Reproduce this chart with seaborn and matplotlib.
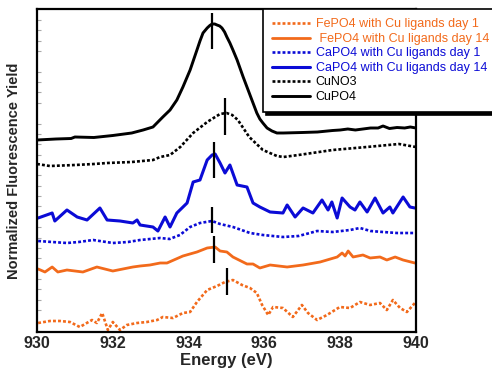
import numpy as np
import matplotlib
matplotlib.use("Agg")
import matplotlib.pyplot as plt
import seaborn as sns
from matplotlib.lines import Line2D
from matplotlib.ticker import FixedLocator

# energy (eV) / stacked normalized yield (arb. units)
cupo4_e = [930.0, 930.5, 930.9, 931.0, 931.5, 932.0, 932.5, 932.8, 933.06, 933.32, 933.51,
           933.69, 933.85, 934.04, 934.13, 934.22, 934.30, 934.38, 934.49, 934.56, 934.62,
           934.69, 934.75, 934.82, 934.88, 934.95, 935.01, 935.09, 935.17, 935.28, 935.44,
           935.54, 935.62, 935.70, 935.80, 935.88, 935.96, 936.07, 936.2, 936.33, 936.5,
           937.0, 937.4, 937.8, 938.0, 938.2, 938.4, 938.6, 938.8, 939.0, 939.13, 939.3,
           939.5, 939.7, 939.85, 940.0]
cupo4_y = [19.2, 19.3, 19.35, 19.5, 19.45, 19.65, 19.9, 20.2, 20.5, 21.5, 22.2,
           23.2, 24.5, 26.2, 27.2, 28.2, 29.1, 29.9, 30.4, 30.65, 30.8,
           30.8, 30.7, 30.6, 30.4, 30.0, 29.5, 28.9, 28.2, 27.2, 25.5,
           24.5, 23.7, 22.9, 21.9, 21.3, 20.9, 20.4, 20.1, 19.9, 19.9,
           19.95, 20.0, 20.15, 20.2, 20.3, 20.2, 20.3, 20.4, 20.4, 20.6, 20.35,
           20.45, 20.4, 20.5, 20.4]

cuno3_e = [930.0, 930.34, 931.0, 931.5, 931.85, 932.5, 933.06, 933.25, 933.51, 933.78,
           934.12, 934.49, 934.7, 934.83, 935.0, 935.15, 935.3, 935.6, 935.96, 936.33,
           936.5, 936.9, 937.8, 938.7, 939.55, 940.0]
cuno3_y = [16.8, 16.6, 16.7, 16.8, 16.9, 17.0, 17.2, 17.5, 17.7, 18.5,
           19.9, 21.0, 21.5, 21.8, 21.9, 21.7, 21.2, 19.5, 18.2, 17.6,
           17.5, 17.7, 18.2, 18.5, 18.8, 18.5]

capo4_d14_e = [930.03, 930.40, 930.47, 930.79, 931.06, 931.32, 931.66, 931.85, 932.19,
               932.53, 932.64, 932.72, 933.06, 933.19, 933.38, 933.51, 933.69, 933.96,
               934.12, 934.30, 934.49, 934.62, 934.70, 934.83, 934.96, 935.09, 935.28,
               935.54, 935.70, 935.88, 936.15, 936.49, 936.60, 936.81, 937.02, 937.28,
               937.52, 937.68, 937.78, 937.92, 938.05, 938.26, 938.39, 938.52, 938.71,
               938.92, 939.13, 939.31, 939.39, 939.66, 939.84, 939.97]
capo4_d14_y = [11.4, 11.9, 11.1, 12.2, 11.5, 11.2, 12.4, 11.2, 11.1,
               10.9, 11.2, 10.7, 10.5, 10.1, 11.5, 10.5, 11.9, 12.9,
               15.0, 15.2, 17.2, 17.7, 17.8, 16.9, 15.9, 16.7, 14.7,
               14.5, 12.9, 12.5, 12.0, 11.9, 12.7, 11.5, 12.4, 11.9,
               13.2, 12.2, 13.0, 11.4, 13.4, 12.5, 12.2, 13.0, 12.0,
               13.4, 11.9, 12.5, 11.9, 13.5, 12.5, 12.4]

capo4_d1_e = [930.03, 930.4, 930.79, 931.1, 931.48, 932.0, 932.4, 932.72, 933.25, 933.5,
              933.77, 934.04, 934.30, 934.62, 934.83, 935.17, 935.62, 935.96, 936.49,
              936.9, 937.20, 937.39, 937.8, 938.26, 938.52, 938.8, 939.13, 939.5, 939.97]
capo4_d1_y = [9.1, 9.0, 8.9, 9.0, 9.2, 8.9, 9.0, 9.2, 9.4, 9.3,
              9.7, 10.5, 10.9, 11.1, 10.8, 10.5, 9.9, 9.7, 9.5,
              9.6, 9.9, 10.1, 10.0, 10.2, 10.4, 10.1, 10.0, 9.9, 9.9]

fepo4_d14_e = [930.03, 930.21, 930.40, 930.55, 930.79, 931.21, 931.58, 932.0, 932.53,
               932.72, 932.98, 933.25, 933.43, 933.85, 934.22, 934.49, 934.70, 934.83,
               935.01, 935.17, 935.54, 935.70, 935.88, 936.15, 936.60, 937.02, 937.47,
               937.92, 938.05, 938.13, 938.21, 938.34, 938.60, 938.79, 939.05, 939.23,
               939.45, 939.66, 939.97]
fepo4_d14_y = [6.3, 6.0, 6.5, 6.0, 6.2, 6.0, 6.5, 6.1, 6.5,
               6.6, 6.7, 6.9, 6.9, 7.6, 8.0, 8.4, 8.5, 8.1,
               8.0, 7.5, 6.8, 6.8, 6.4, 6.7, 6.5, 6.7, 7.0,
               7.5, 7.9, 7.6, 8.1, 7.5, 7.7, 7.4, 7.5, 7.2,
               7.5, 7.2, 6.9]

fepo4_d1_e = [930.03, 930.34, 930.61, 930.87, 931.13, 931.45, 931.58, 931.72, 931.87,
              932.0, 932.19, 932.37, 932.64, 932.90, 933.17, 933.32, 933.59, 933.85,
              934.04, 934.22, 934.49, 934.75, 934.96, 935.17, 935.41, 935.62, 935.80,
              935.94, 936.10, 936.23, 936.49, 936.75, 936.99, 937.15, 937.39, 937.65,
              937.99, 938.26, 938.52, 938.79, 939.05, 939.23, 939.39, 939.58, 939.76,
              939.97]
fepo4_d1_y = [0.9, 1.1, 1.1, 1.0, 0.5, 1.2, 0.9, 1.9, 0.2,
              1.0, 0.2, 0.7, 0.9, 1.0, 1.2, 1.5, 1.4, 1.9,
              2.0, 3.0, 4.2, 4.6, 5.0, 5.2, 4.7, 4.4, 3.9,
              2.7, 1.7, 2.5, 2.4, 1.5, 2.7, 1.9, 1.2, 1.7,
              2.5, 2.4, 3.0, 2.7, 2.9, 2.2, 3.2, 2.4, 2.0,
              2.9]

# peak position markers: energy, low, high
peak_e = [934.62, 934.96, 934.67, 934.62, 934.67, 935.0]
peak_lo = [28.3, 19.7, 15.4, 9.9, 6.9, 3.7]
peak_hi = [31.9, 23.4, 19.0, 12.5, 9.6, 6.4]

labels = ["FePO4 with Cu ligands day 1", " FePO4 with Cu ligands day 14",
          "CaPO4 with Cu ligands day 1", "CaPO4 with Cu ligands day 14",
          "CuNO3", "CuPO4"]

ORANGE = "#F26A1B"
BLUE = "#0B0BD6"
DOT = (0, (1.1, 0.8))

sns.set_theme(style="white")
plt.rcParams["font.family"] = ["Liberation Sans", "DejaVu Sans"]

fig = plt.figure(figsize=(4.92, 3.68), dpi=100)
ax = fig.add_axes([37 / 492, 1 - 332 / 368, 379 / 492, 323 / 368])

series = [
    (fepo4_d1_e, fepo4_d1_y, ORANGE, DOT, 1.9),
    (fepo4_d14_e, fepo4_d14_y, ORANGE, "-", 2.0),
    (capo4_d1_e, capo4_d1_y, BLUE, DOT, 1.9),
    (capo4_d14_e, capo4_d14_y, BLUE, "-", 2.2),
    (cuno3_e, cuno3_y, "black", DOT, 1.9),
    (cupo4_e, cupo4_y, "black", "-", 2.1),
]

handles = []
for (xs, ys, col, ls, lw), lab in zip(series, labels):
    sns.lineplot(x=xs, y=ys, color=col, linestyle=ls, lw=lw, sort=False,
                 estimator=None, ax=ax)
    handles.append(Line2D([], [], color=col, linestyle=ls, lw=lw))

ax.vlines(peak_e, peak_lo, peak_hi, color="black", lw=1.6, zorder=5)

ax.set_xlim(930, 940)
ax.set_ylim(0, 32.3)
ax.set_xticks([930, 932, 934, 936, 938, 940])
ax.set_xticklabels(["930", "932", "934", "936", "938", "940"],
                   fontsize=11.5, fontweight="bold")
ax.tick_params(axis="x", direction="in", length=2, color="#999999", pad=3)

minor_y = [27.07 - 1.037 * k for k in range(-4, 27) if 0 < 27.07 - 1.037 * k < 32.3]
major_y = [27.07 - 5.185 * k for k in range(0, 6) if 0 < 27.07 - 5.185 * k < 32.3]
ax.yaxis.set_major_locator(FixedLocator(major_y))
ax.yaxis.set_minor_locator(FixedLocator(minor_y))
ax.set_yticklabels([])
ax.tick_params(axis="y", which="major", direction="in", length=5, color="#aaaaaa", width=1)
ax.tick_params(axis="y", which="minor", direction="in", length=3, color="#aaaaaa", width=0.8, left=True)

for sp in ax.spines.values():
    sp.set_color("black")
    sp.set_linewidth(1.6)

ax.set_xlabel("Energy (eV)", fontsize=12, fontweight="bold", labelpad=1)
ax.set_ylabel("Normalized Fluorescence Yield", fontsize=10.5, fontweight="bold", labelpad=8)

leg = ax.legend(handles, labels, loc="upper left", mode="expand",
                bbox_to_anchor=(263 / 492, 1 - 107 / 368, 250 / 492, 98 / 368),
                bbox_transform=fig.transFigure,
                fontsize=9, frameon=True, fancybox=False,
                shadow={"color": "black", "alpha": 1},
                handlelength=3.0, handletextpad=0.45, labelspacing=0.2,
                borderpad=0.75, borderaxespad=0)
leg.get_frame().set_edgecolor("black")
leg.get_frame().set_linewidth(1.2)
for txt, (_, _, col, _, _) in zip(leg.get_texts(), series):
    txt.set_color(col)

fig.savefig("out.png", dpi=100)
